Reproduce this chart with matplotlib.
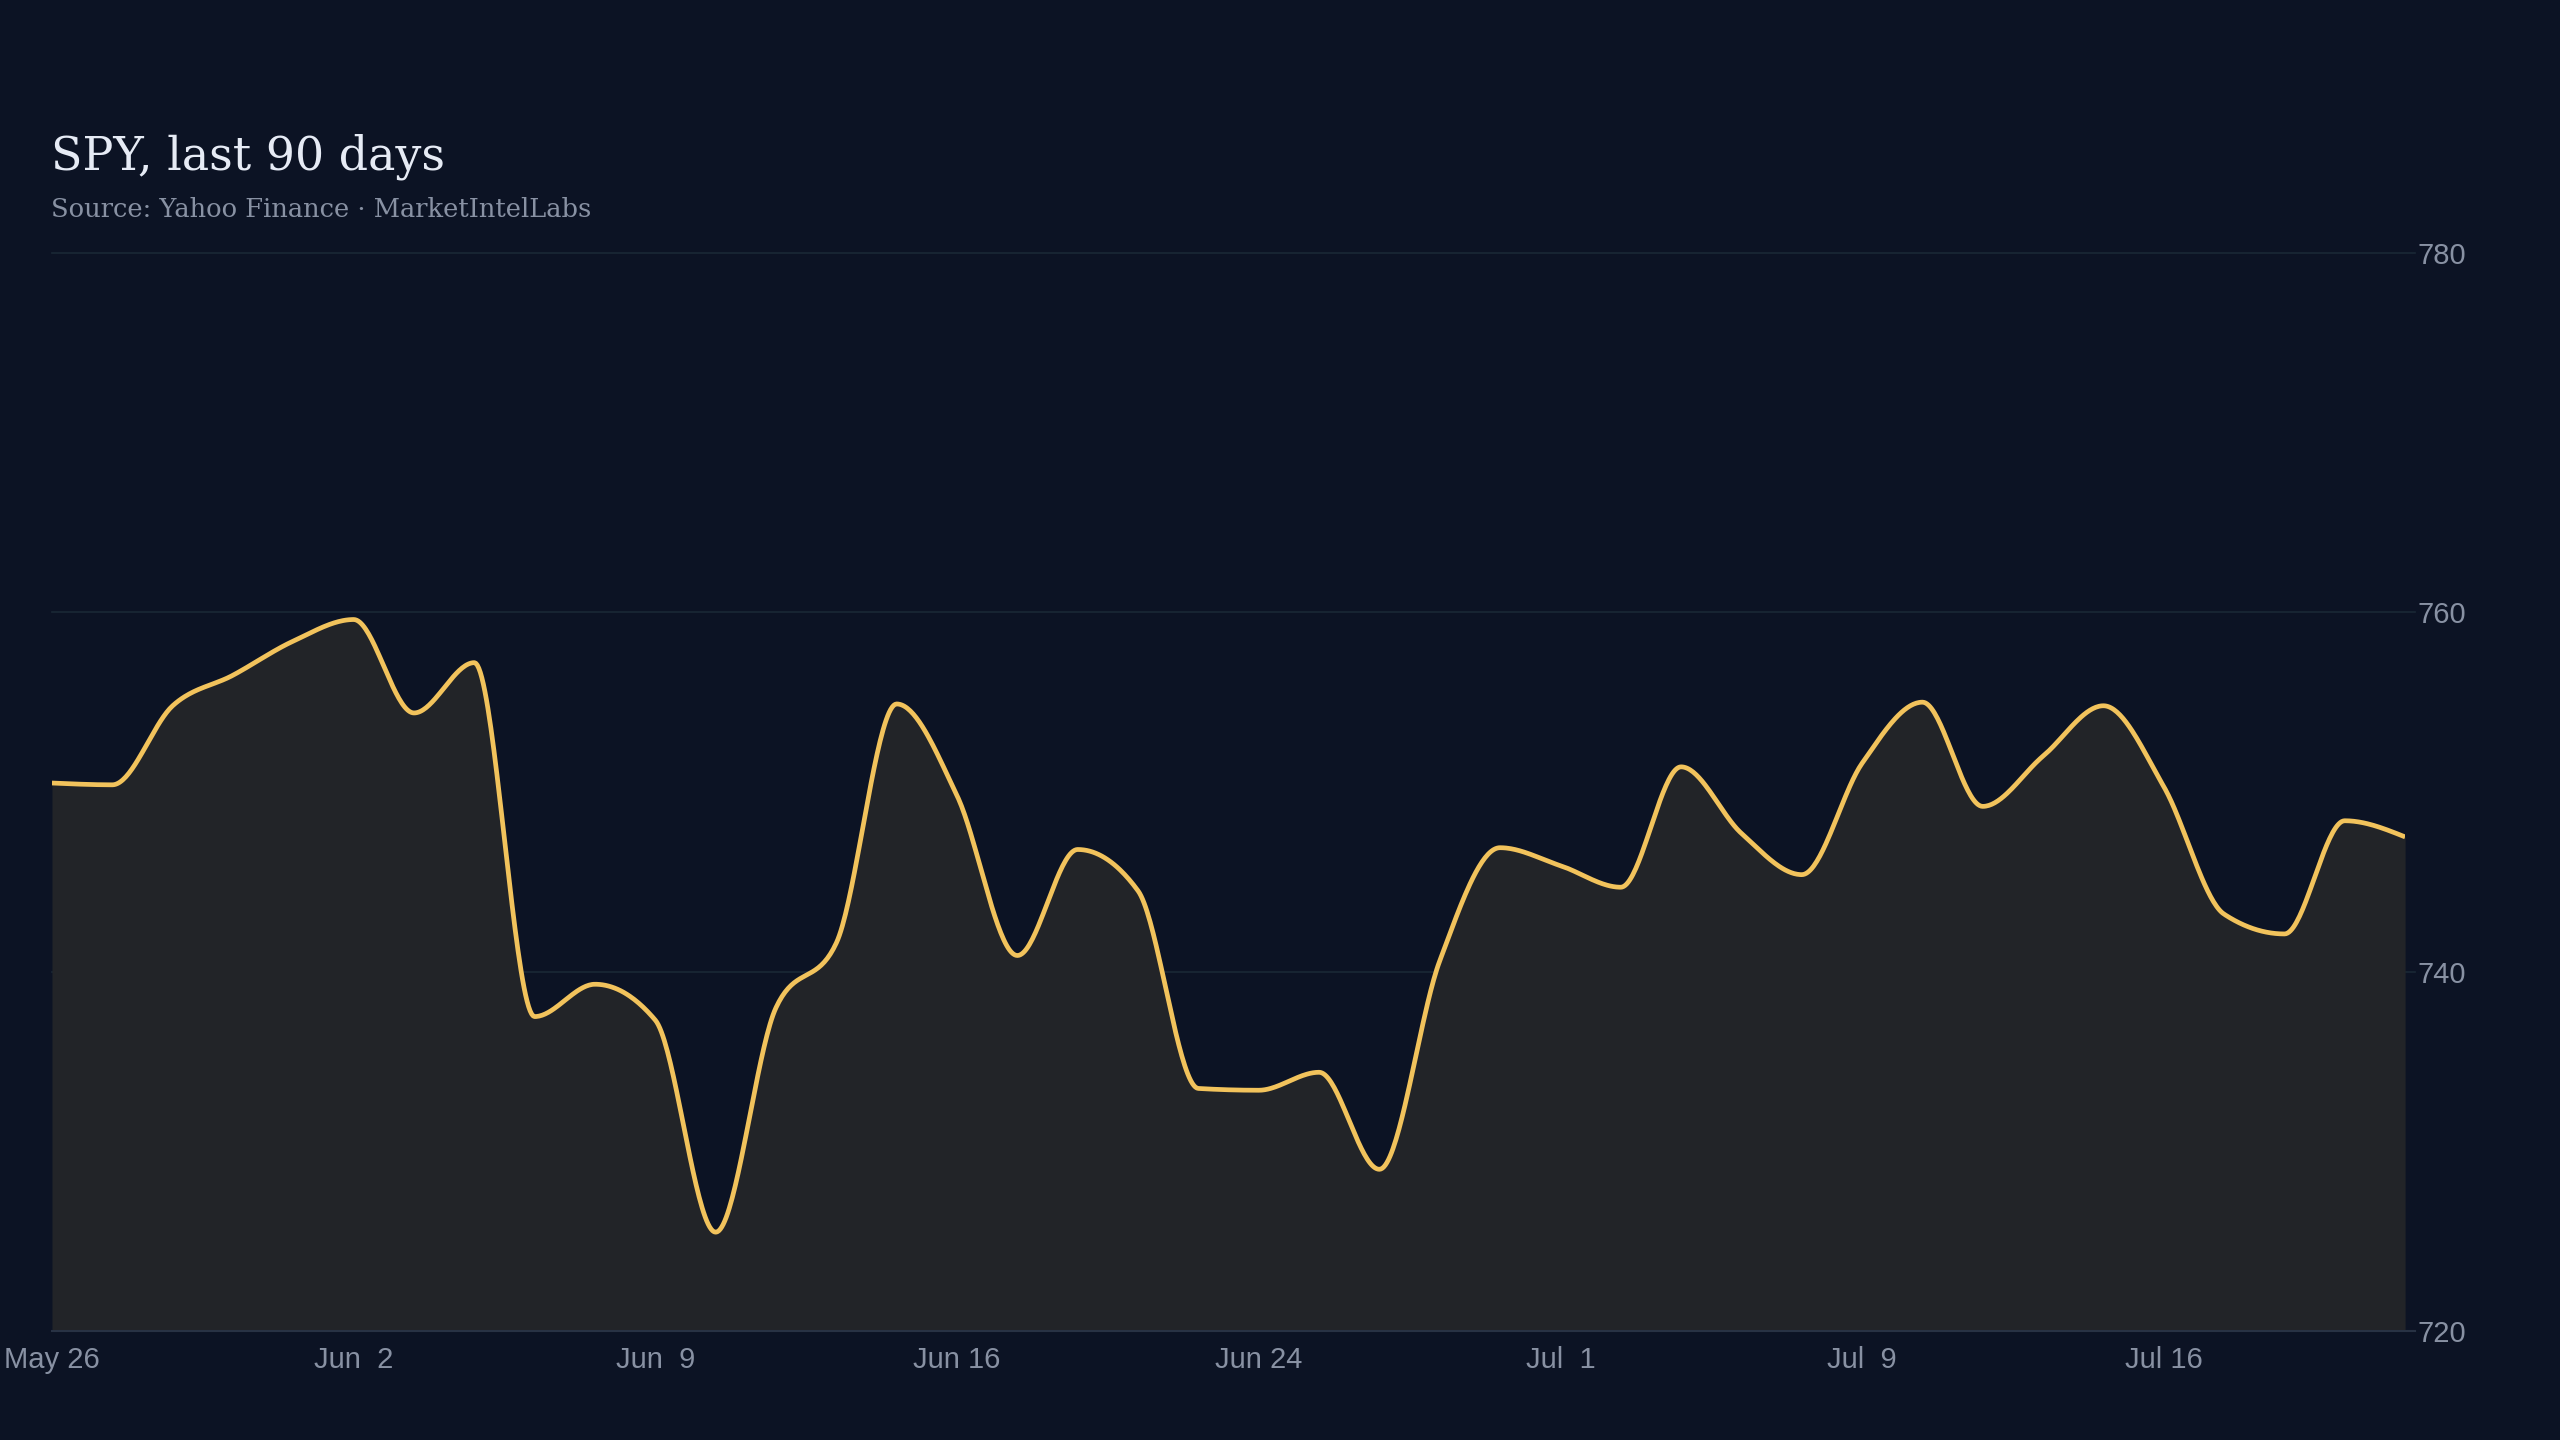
import numpy as np
import matplotlib
matplotlib.use("Agg")
import matplotlib.pyplot as plt

# closing prices, one per trading day
close = [
    750.5, 750.4, 754.8, 756.5, 758.4, 759.6, 754.4, 757.2, 737.5, 739.3,
    737.3, 725.5, 738.0, 741.6, 754.9, 749.8, 740.9, 746.8, 744.5, 733.5,
    733.4, 734.4, 729.0, 740.6, 746.9, 745.9, 744.7, 751.4, 747.7, 745.4,
    751.6, 755.0, 749.2, 752.0, 754.8, 750.3, 743.2, 742.1, 748.4, 747.5,
]
# every 5th trading day gets a label
tick_labels = ["May 26", "Jun  2", "Jun  9", "Jun 16", "Jun 24", "Jul  1", "Jul  9", "Jul 16"]
y_ticks = [720, 740, 760, 780]

BG = "#0c1324"
FILL = "#222428"
LINE = "#f2c35c"
GRID = "#1a2836"
MUTED = "#8891a3"


# monotone cubic (same idea as d3 curveMonotoneX), just for drawing the line
def monotone_curve(x, y, n=40):
    x = np.asarray(x, float)
    y = np.asarray(y, float)
    h = np.diff(x)
    s = np.diff(y) / h
    m = np.zeros_like(y)
    for i in range(1, len(y) - 1):
        p = (s[i-1] * h[i] + s[i] * h[i-1]) / (h[i-1] + h[i])
        if s[i-1] * s[i] > 0:
            m[i] = (np.sign(s[i-1]) + np.sign(s[i])) * min(abs(s[i-1]), abs(s[i]), 0.5 * abs(p))
        else:
            m[i] = 0.0
    m[0] = (3 * s[0] - m[1]) / 2
    m[-1] = (3 * s[-1] - m[-2]) / 2
    xs, ys = [], []
    t = np.linspace(0, 1, n, endpoint=False)
    for i in range(len(y) - 1):
        h00 = 2*t**3 - 3*t**2 + 1
        h10 = t**3 - 2*t**2 + t
        h01 = -2*t**3 + 3*t**2
        h11 = t**3 - t**2
        xs.append(x[i] + t * h[i])
        ys.append(h00*y[i] + h10*h[i]*m[i] + h01*y[i+1] + h11*h[i]*m[i+1])
    xs.append([x[-1]])
    ys.append([y[-1]])
    return np.concatenate(xs), np.concatenate(ys)


x = np.arange(len(close))
xs, ys = monotone_curve(x, close)

fig = plt.figure(figsize=(25.6, 14.4), dpi=100, facecolor=BG)
ax = fig.add_axes([0.0203, 0.0757, 0.9192, 0.7486])
ax.set_facecolor(BG)

ax.fill_between(xs, ys, y_ticks[0], color=FILL, lw=0, zorder=1)
ax.plot(xs, ys, color=LINE, lw=3.4, solid_capstyle="butt", zorder=3)

ax.set_xlim(x[0], x[-1])
ax.set_ylim(y_ticks[0], y_ticks[-1])

for v in y_ticks[1:]:
    ax.axhline(v, color=GRID, lw=1.2, zorder=0, clip_on=False, xmax=1.004)
ax.axhline(y_ticks[0], color="#283244", lw=1.5, zorder=2, clip_on=False, xmax=1.004)

for sp in ax.spines.values():
    sp.set_visible(False)

ax.set_xticks(x[::5])
ax.set_xticklabels(tick_labels)
ax.yaxis.tick_right()
ax.set_yticks(y_ticks)
ax.set_yticklabels([str(v) for v in y_ticks])
ax.tick_params(axis="both", length=0, colors=MUTED, labelsize=21)
ax.tick_params(axis="x", pad=11)
ax.tick_params(axis="y", pad=9)
for lab in ax.get_xticklabels() + ax.get_yticklabels():
    lab.set_fontfamily("Liberation Sans")

fig.text(0.0199, 1 - 170/1440, "SPY, last 90 days", color="#e6ebf5",
         fontsize=33, family="DejaVu Serif", va="baseline")
fig.text(0.0199, 1 - 217/1440, "Source: Yahoo Finance \u00b7 MarketIntelLabs", color=MUTED,
         fontsize=18.5, family="DejaVu Serif", va="baseline")

fig.savefig("out.png", dpi=100, facecolor=BG)
